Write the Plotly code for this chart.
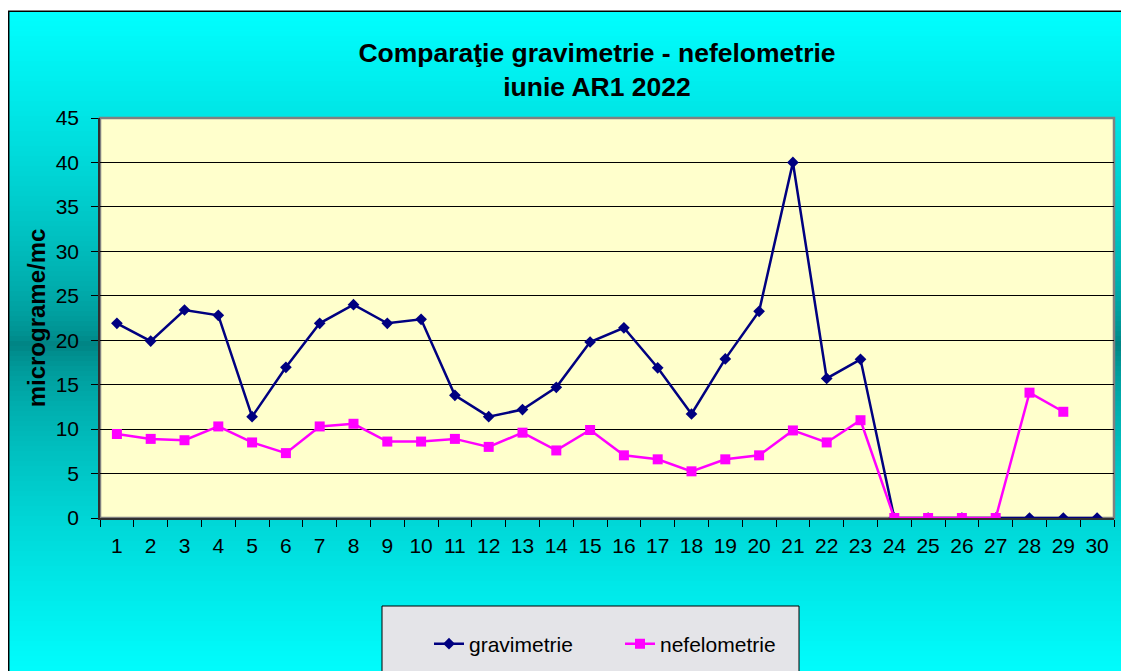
import plotly.graph_objects as go

days = [str(i) for i in range(1, 31)]
gravimetrie = [21.9, 19.9, 23.4, 22.8, 11.4, 16.95, 21.9, 24.0, 21.9, 22.35,
               13.8, 11.4, 12.2, 14.7, 19.8, 21.4, 16.9, 11.7, 17.9, 23.25,
               40.0, 15.7, 17.85, 0, 0, 0, 0, 0, 0, 0]
nefelometrie = [9.45, 8.9, 8.75, 10.3, 8.5, 7.3, 10.3, 10.6, 8.6, 8.6,
                8.9, 8.0, 9.6, 7.6, 9.9, 7.05, 6.6, 5.25, 6.6, 7.05,
                9.85, 8.5, 11.0, 0, 0, 0, 0, 14.1, 11.95, None]
y_ticks = [0, 5, 10, 15, 20, 25, 30, 35, 40, 45]

W, H = 1129, 671
OFF = 8  # page body margin offset
# plot area in screen pixels
SL, SR, ST, SB = 100, 1114, 118, 518
L, R, T, B = SL - OFF, SR - OFF, ST - OFF, SB - OFF
FONT = "Arial, Liberation Sans, sans-serif"


def px(x):
    return (x - SL) / (SR - SL)


def py(y):
    return (SB - y) / (SB - ST)


shapes = []
# vertical gradient background cyan -> teal -> cyan
step = 5
y0 = 11
while y0 < 700:
    yc = y0 + step / 2
    t = min(abs(yc - 345) / 335.0, 1.0)
    g = int(round(128 + 127 * t ** 0.6))
    shapes.append(dict(type="rect", xref="paper", yref="paper", layer="below",
                       x0=px(8), x1=px(1150), y0=py(y0 + step + 0.5), y1=py(y0),
                       fillcolor=f"rgb(0,{g},{g})", line=dict(width=0)))
    y0 += step
# chart frame
shapes.append(dict(type="rect", xref="paper", yref="paper", layer="below",
                   x0=px(8.7), x1=px(1160), y0=py(720), y1=py(11.2),
                   fillcolor="rgba(0,0,0,0)", line=dict(color="#000000", width=1.5)))
# plot area
shapes.append(dict(type="rect", xref="paper", yref="paper", layer="below",
                   x0=0, x1=1, y0=0, y1=1,
                   fillcolor="#FFFFCC", line=dict(color="#808080", width=2.5)))
# legend box
shapes.append(dict(type="rect", xref="paper", yref="paper", layer="below",
                   x0=px(382), x1=px(799), y0=py(720), y1=py(606),
                   fillcolor="#E4E4E8", line=dict(color="#000000", width=1)))

fig = go.Figure()
fig.add_trace(go.Scatter(
    x=days, y=gravimetrie, name="gravimetrie", mode="lines+markers",
    line=dict(color="#000080", width=2.5),
    marker=dict(symbol="diamond", size=9, color="#000080"),
))
fig.add_trace(go.Scatter(
    x=days, y=nefelometrie, name="nefelometrie", mode="lines+markers",
    line=dict(color="#FF00FF", width=2.5),
    marker=dict(symbol="square", size=10, color="#FF00FF"),
))

fig.update_layout(
    template="none",
    width=W, height=H,
    margin=dict(l=L, r=W - R, t=T, b=H - B, pad=0),
    paper_bgcolor="#FFFFFF",
    plot_bgcolor="rgba(0,0,0,0)",
    font=dict(family=FONT, color="#000000", size=21),
    title=dict(
        text="Comparaţie gravimetrie - nefelometrie<br>iunie AR1 2022",
        font=dict(family=FONT, size=26.5, color="#000000", weight="bold"),
        xref="container", yref="container", x=(597 - OFF) / W, xanchor="center",
        y=1 - 54 / H, yanchor="middle",
    ),
    xaxis=dict(
        type="category", tickson="boundaries", ticks="outside", ticklen=7,
        tickcolor="#000000", showgrid=False, showline=True, linecolor="#303030",
        linewidth=1.5, tickfont=dict(size=21, family=FONT), zeroline=False,
        range=[-0.5, 29.5], ticklabelstandoff=8,
    ),
    yaxis=dict(
        range=[0, 45], tickvals=y_ticks, ticks="outside", ticklen=7,
        tickcolor="#000000", showgrid=True, gridcolor="#000000", gridwidth=1,
        showline=True, linecolor="#303030", linewidth=1.5, zeroline=False,
        tickfont=dict(size=21, family=FONT), ticklabelstandoff=8,
        title=dict(text="micrograme/mc", standoff=3,
                   font=dict(size=24, family=FONT, weight="bold")),
    ),
    legend=dict(
        orientation="h", x=px(429), xanchor="left", y=py(644), yanchor="middle",
        bgcolor="rgba(0,0,0,0)", borderwidth=0,
        font=dict(size=21, family=FONT, color="#000000"),
        entrywidth=146, entrywidthmode="pixels",
    ),
    shapes=shapes,
    showlegend=True,
)

fig.write_html("out.html")
